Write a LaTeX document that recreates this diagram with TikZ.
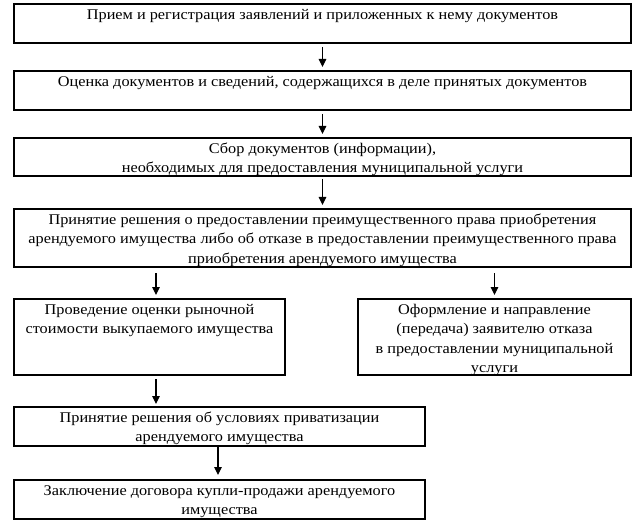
\documentclass[tikz,border=0pt]{standalone}
\usepackage{fontspec}
\setmainfont{Liberation Serif}[FakeStretch=1.10]
\usetikzlibrary{arrows.meta}
\begin{document}
\begin{tikzpicture}[x=1pt,y=-1pt,
  box/.style={draw, line width=1.6pt, rectangle, inner sep=0pt, outer sep=0pt, anchor=north west},
  txt/.style={inner sep=0pt, anchor=north, align=center, font=\fontsize{14.8}{19.5}\selectfont, yshift=-1.4pt},
  arr/.style={-{Triangle[length=8pt,width=7.5pt]}, line width=1.2pt}]
\useasboundingbox (0,0) rectangle (639,529);
% boxes
\node[box, minimum width=617pt, minimum height=39pt] (b1) at (14,4) {};
\node[box, minimum width=617pt, minimum height=39pt] (b2) at (14,71) {};
\node[box, minimum width=617pt, minimum height=38pt] (b3) at (14,138) {};
\node[box, minimum width=617pt, minimum height=58pt] (b4) at (14,209) {};
\node[box, minimum width=271pt, minimum height=76pt] (b5l) at (14,299) {};
\node[box, minimum width=273pt, minimum height=76pt] (b5r) at (358,299) {};
\node[box, minimum width=411pt, minimum height=39pt] (b6) at (14,407) {};
\node[box, minimum width=411pt, minimum height=39pt] (b7) at (14,480) {};
% texts
\node[txt] (t1) at (b1.north) {\strut Прием и регистрация заявлений и приложенных к нему документов};
\node[txt] (t2) at (b2.north) {\strut Оценка документов и сведений, содержащихся в деле принятых документов};
\node[txt] (t3) at (b3.north) {\strut Сбор документов (информации),\\ необходимых для предоставления муниципальной услуги};
\node[txt] (t4) at (b4.north) {\strut Принятие решения о предоставлении преимущественного права приобретения\\ арендуемого имущества либо об отказе в предоставлении преимущественного права\\ приобретения арендуемого имущества};
\node[txt] (t5l) at (b5l.north) {\strut Проведение оценки рыночной\\ стоимости выкупаемого имущества};
\node[txt] (t5r) at (b5r.north) {\strut Оформление и направление\\ (передача) заявителю отказа\\ в предоставлении муниципальной\\ услуги};
\node[txt] (t6) at (b6.north) {\strut Принятие решения об условиях приватизации\\ арендуемого имущества};
\node[txt] (t7) at (b7.north) {\strut Заключение договора купли-продажи арендуемого\\ имущества};
% arrows
\draw[arr, shorten <=4pt, shorten >=4pt] (b1.south) -- (b2.north);
\draw[arr, shorten <=4pt, shorten >=4pt] (b2.south) -- (b3.north);
\draw[arr, shorten <=3pt, shorten >=4pt] (b3.south) -- (b4.north);
\draw[arr, shorten <=6pt, shorten >=4pt] ([xshift=6.5pt]b5l.north |- b4.south) -- ([xshift=6.5pt]b5l.north);
\draw[arr, shorten <=6pt, shorten >=4pt] (b5r.north |- b4.south) -- (b5r.north);
\draw[arr, shorten <=4pt, shorten >=3pt] ([xshift=6.5pt]b5l.south) -- ([xshift=6.5pt]b5l.south |- b6.north);
\draw[arr, shorten <=1pt, shorten >=5pt] ([xshift=-1.5pt]b6.south) -- ([xshift=-1.5pt]b7.north);
\end{tikzpicture}
\end{document}
